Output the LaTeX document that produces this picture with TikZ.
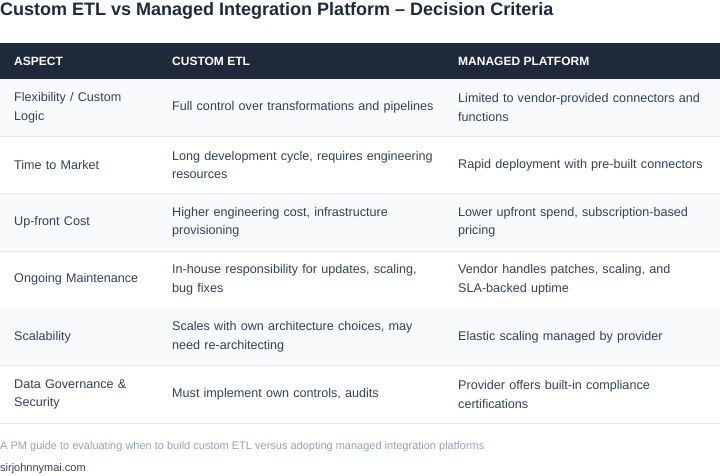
\documentclass[tikz,border=0pt]{standalone}
\usepackage{fontspec}
\setmainfont{Liberation Sans}
\usetikzlibrary{positioning}
\definecolor{headbg}{HTML}{1E293B}
\definecolor{altbg}{HTML}{F8FAFC}
\definecolor{rule}{HTML}{E2E8F0}
\definecolor{bodytext}{HTML}{334155}
\definecolor{foot}{HTML}{94A3B8}
\begin{document}
\begin{tikzpicture}[x=1pt,y=-1pt,
    cell/.style={anchor=west,align=left,inner sep=0pt,font=\fontsize{12.6}{18.5}\selectfont,text=bodytext,
        execute at begin node={\hyphenpenalty=10000\exhyphenpenalty=10000\relax}},
    head/.style={anchor=west,inner sep=0pt,text=white,font=\fontsize{12}{14}\selectfont\bfseries}]
    \useasboundingbox (0,0) rectangle (720,476);
    \node[anchor=west,inner sep=0pt,font=\fontsize{18}{22}\selectfont\bfseries,text=headbg] (title) at (0,11) {Custom ETL vs Managed Integration Platform – Decision Criteria};
    % header band
    \fill[headbg] (0,43) rectangle (720,79);
    \node[head] (h_aspect) at (14,61) {ASPECT};
    \node[head] (h_custom) at (172,61) {CUSTOM ETL};
    \node[head] (h_managed) at (458,61) {MANAGED PLATFORM};
    % rows
    \foreach \i/\a/\b/\c in {
        0/{Flexibility / Custom Logic}/{Full control over transformations and pipelines}/{Limited to vendor-provided connectors and functions},
        1/{Time to Market}/{Long development cycle, requires engineering resources}/{Rapid deployment with pre-built connectors},
        2/{Up-front Cost}/{Higher engineering cost, infrastructure provisioning}/{Lower upfront spend, subscription-based pricing},
        3/{Ongoing Maintenance}/{In-house responsibility for updates, scaling, bug fixes}/{Vendor handles patches, scaling, and SLA-backed uptime},
        4/{Scalability}/{Scales with own architecture choices, may need re-architecting}/{Elastic scaling managed by provider},
        5/{Data Governance \& Security}/{Must implement own controls, audits}/{Provider offers built-in compliance certifications}} {
        \pgfmathsetmacro{\top}{79+57.33*\i}
        \pgfmathsetmacro{\mid}{\top+28.67}
        \ifodd\i\else\fill[altbg] (0,\top) rectangle (720,\top+57.33);\fi
        \draw[rule] (0,\top+57.33) -- (720,\top+57.33);
        \node[cell,text width=135pt] (aspect\i) at (14,\mid) {\a};
        \node[cell,text width=262pt] (custom\i) at (172,\mid) {\b};
        \node[cell,text width=252pt] (managed\i) at (458,\mid) {\c};
    }
    % footer
    \node[anchor=west,inner sep=0pt,font=\fontsize{11}{13}\selectfont,text=foot] (caption) at (0,447) {A PM guide to evaluating when to build custom ETL versus adopting managed integration platforms};
    \node[anchor=west,inner sep=0pt,font=\fontsize{11}{13}\selectfont,text=bodytext] (site) at (0,469) {sirjohnnymai.com};
\end{tikzpicture}
\end{document}
